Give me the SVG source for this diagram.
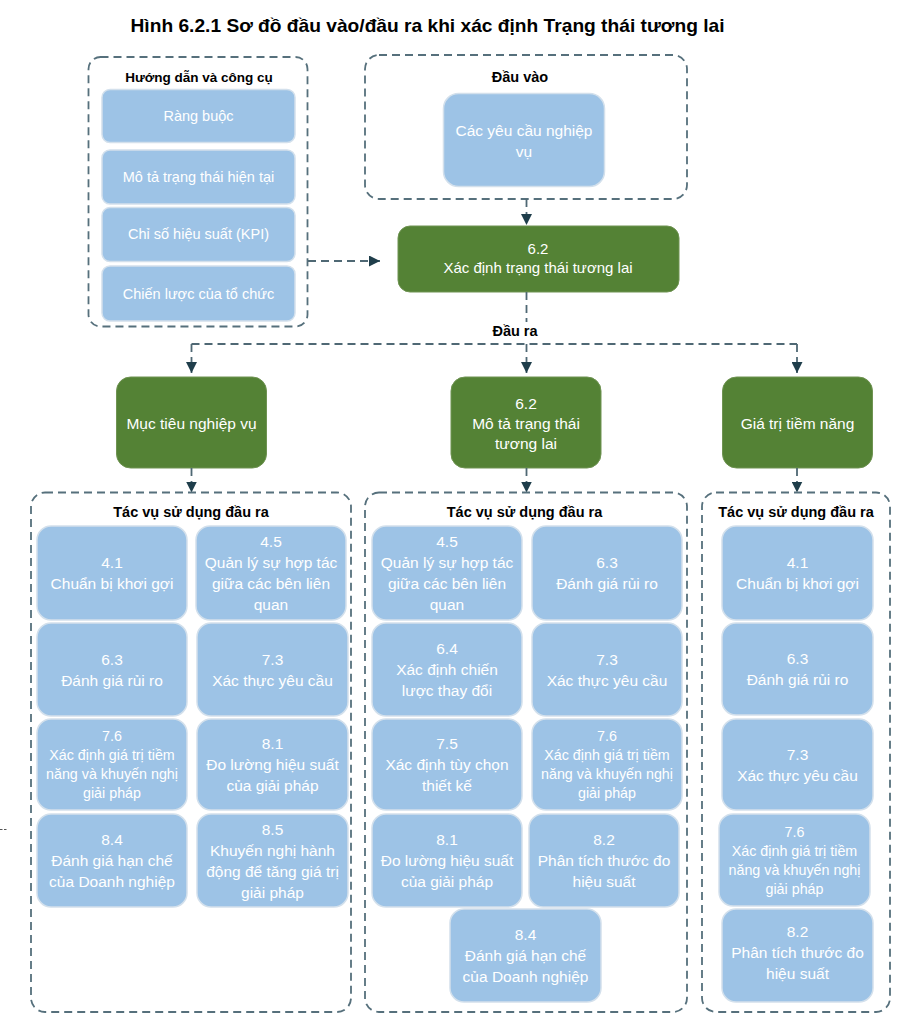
<svg xmlns="http://www.w3.org/2000/svg" width="899" height="1024" viewBox="0 0 899 1024">
<defs>
<marker id="ah" viewBox="0 0 11 11" refX="11" refY="5.5" markerWidth="11" markerHeight="11" markerUnits="userSpaceOnUse" orient="auto">
<path d="M0,0 L11,5.5 L0,11 z" fill="#1f3e4b"/>
</marker>
<style>
text{font-family:"Liberation Sans",Arial,sans-serif;text-anchor:middle}
.title{font-size:18.5px;font-weight:bold;fill:#000}
.hdr{font-size:14.5px;font-weight:bold;fill:#000}
.panel{fill:none;stroke:#56707c;stroke-width:1.8;stroke-dasharray:8,5}
.blue{fill:#9dc3e6;stroke:#d3e0ec;stroke-width:1.5}
.green{fill:#548235;stroke:#6f9352;stroke-width:1}
.bt{font-size:15.5px;fill:#fff}
.st{font-size:14.3px;fill:#fff}
.tl{font-size:14.5px;fill:#fff}
.gt{font-size:15.5px;fill:#fff}
.conn{fill:none;stroke:#4f6874;stroke-width:1.8;stroke-dasharray:8,5}
</style>
</defs>

<text class="title" x="427.5" y="32" textLength="594" lengthAdjust="spacingAndGlyphs">Hình 6.2.1 Sơ đồ đầu vào/đầu ra khi xác định Trạng thái tương lai</text>

<g id="guides">
<rect class="panel" x="88.5" y="57" width="219" height="269.5" rx="12"/>
<text class="hdr" x="199" y="81.5" style="font-size:13.5px">Hướng dẫn và công cụ</text>
<g id="g-rangbuoc"><rect class="blue" x="102" y="89.5" width="193" height="53" rx="8"/><text class="tl" x="198.5" y="121">Ràng buộc</text></g>
<g id="g-mota"><rect class="blue" x="102" y="150" width="193" height="54" rx="8"/><text class="tl" x="198.5" y="182">Mô tả trạng thái hiện tại</text></g>
<g id="g-kpi"><rect class="blue" x="102" y="207.5" width="193" height="54" rx="8"/><text class="tl" x="198.5" y="239">Chỉ số hiệu suất (KPI)</text></g>
<g id="g-chienluoc"><rect class="blue" x="102" y="266" width="193" height="55" rx="8"/><text class="tl" x="198.5" y="298.5">Chiến lược của tổ chức</text></g>
</g>

<g id="inputs">
<rect class="panel" x="365" y="55" width="322" height="144" rx="14"/>
<text class="hdr" x="520" y="82">Đầu vào</text>
<g id="in-yeucau"><rect class="blue" x="443.5" y="93.5" width="161" height="93" rx="15"/>
<text class="bt" x="524" y="135.5">Các yêu cầu nghiệp</text><text class="bt" x="524" y="157">vụ</text></g>
</g>

<g id="task-6-2">
<rect class="green" x="398" y="226" width="281" height="66" rx="12"/>
<text class="st" x="538" y="253.5" style="font-size:15px">6.2</text>
<text class="st" x="538" y="273" style="font-size:15px">Xác định trạng thái tương lai</text>
</g>

<text class="hdr" x="515" y="336">Đầu ra</text>

<g id="out-muctieu">
<rect class="green" x="116.5" y="377" width="150" height="91" rx="14"/>
<text class="gt" x="191.5" y="428.5">Mục tiêu nghiệp vụ</text>
</g>
<g id="out-mota">
<rect class="green" x="451" y="377" width="150" height="91" rx="14"/>
<text class="gt" x="526" y="408.5">6.2</text>
<text class="gt" x="526" y="428.5">Mô tả trạng thái</text>
<text class="gt" x="526" y="448.5">tương lai</text>
</g>
<g id="out-giatri">
<rect class="green" x="722.5" y="377" width="150" height="91" rx="14"/>
<text class="gt" x="797.5" y="428.5">Giá trị tiềm năng</text>
</g>

<g id="connectors">
<path class="conn" d="M526.5,199 V225" marker-end="url(#ah)"/>
<path class="conn" d="M308,261 H380" marker-end="url(#ah)"/>
<path class="conn" d="M526.5,292 V322"/>
<path class="conn" d="M191.5,344 H797"/>
<path class="conn" d="M191.5,344 V373" marker-end="url(#ah)"/>
<path class="conn" d="M526.5,344 V373" marker-end="url(#ah)"/>
<path class="conn" d="M797,344 V373" marker-end="url(#ah)"/>
<path class="conn" d="M191.5,468 V492.5" marker-end="url(#ah)"/>
<path class="conn" d="M526.5,468 V492.5" marker-end="url(#ah)"/>
<path class="conn" d="M797,468 V492.5" marker-end="url(#ah)"/>
<path d="M0,829.5 H7" fill="none" stroke="#555" stroke-width="1" stroke-dasharray="2.5,1.5"/>
</g>

<g id="uses-left">
<rect class="panel" x="31" y="492.5" width="320" height="519.5" rx="14"/>
<text class="hdr" x="191" y="517">Tác vụ sử dụng đầu ra</text>
<g id="l41"><rect class="blue" x="37" y="526" width="150" height="94" rx="14"/><text class="bt" x="112" y="568">4.1</text><text class="bt" x="112" y="589">Chuẩn bị khơi gợi</text></g>
<g id="l45"><rect class="blue" x="196" y="526" width="150" height="94" rx="14"/><text class="bt" x="271" y="547">4.5</text><text class="bt" x="271" y="568">Quản lý sự hợp tác</text><text class="bt" x="271" y="589">giữa các bên liên</text><text class="bt" x="271" y="610">quan</text></g>
<g id="l63"><rect class="blue" x="37" y="623" width="150" height="93" rx="14"/><text class="bt" x="112" y="664.5">6.3</text><text class="bt" x="112" y="685.5">Đánh giá rủi ro</text></g>
<g id="l73"><rect class="blue" x="197" y="623" width="151" height="93" rx="14"/><text class="bt" x="272.5" y="664.5">7.3</text><text class="bt" x="272.5" y="685.5">Xác thực yêu cầu</text></g>
<g id="l76"><rect class="blue" x="37" y="719" width="150" height="91" rx="14"/><text class="st" x="112" y="741">7.6</text><text class="st" x="112" y="760">Xác định giá trị tiềm</text><text class="st" x="112" y="779">năng và khuyến nghị</text><text class="st" x="112" y="798">giải pháp</text></g>
<g id="l81"><rect class="blue" x="197" y="719" width="151" height="91" rx="14"/><text class="bt" x="272.5" y="749">8.1</text><text class="bt" x="272.5" y="770">Đo lường hiệu suất</text><text class="bt" x="272.5" y="791">của giải pháp</text></g>
<g id="l84"><rect class="blue" x="37" y="814" width="150" height="93" rx="14"/><text class="bt" x="112" y="845">8.4</text><text class="bt" x="112" y="866">Đánh giá hạn chế</text><text class="bt" x="112" y="887">của Doanh nghiệp</text></g>
<g id="l85"><rect class="blue" x="197" y="814" width="151" height="93" rx="14"/><text class="bt" x="272.5" y="834.5">8.5</text><text class="bt" x="272.5" y="855.5">Khuyến nghị hành</text><text class="bt" x="272.5" y="876.5">động để tăng giá trị</text><text class="bt" x="272.5" y="897.5">giải pháp</text></g>
</g>

<g id="uses-middle">
<rect class="panel" x="365" y="492.5" width="322" height="519.5" rx="14"/>
<text class="hdr" x="524.5" y="517">Tác vụ sử dụng đầu ra</text>
<g id="m45"><rect class="blue" x="372" y="526" width="150" height="94" rx="14"/><text class="bt" x="447" y="547">4.5</text><text class="bt" x="447" y="568">Quản lý sự hợp tác</text><text class="bt" x="447" y="589">giữa các bên liên</text><text class="bt" x="447" y="610">quan</text></g>
<g id="m63"><rect class="blue" x="532" y="526" width="150" height="94" rx="14"/><text class="bt" x="607" y="568">6.3</text><text class="bt" x="607" y="589">Đánh giá rủi ro</text></g>
<g id="m64"><rect class="blue" x="372" y="623" width="150" height="93" rx="14"/><text class="bt" x="447" y="654">6.4</text><text class="bt" x="447" y="675">Xác định chiến</text><text class="bt" x="447" y="696">lược thay đổi</text></g>
<g id="m73"><rect class="blue" x="532" y="623" width="150" height="93" rx="14"/><text class="bt" x="607" y="664.5">7.3</text><text class="bt" x="607" y="685.5">Xác thực yêu cầu</text></g>
<g id="m75"><rect class="blue" x="372" y="719" width="150" height="91" rx="14"/><text class="bt" x="447" y="749">7.5</text><text class="bt" x="447" y="770">Xác định tùy chọn</text><text class="bt" x="447" y="791">thiết kế</text></g>
<g id="m76"><rect class="blue" x="532" y="719" width="150" height="91" rx="14"/><text class="st" x="607" y="741">7.6</text><text class="st" x="607" y="760">Xác định giá trị tiềm</text><text class="st" x="607" y="779">năng và khuyến nghị</text><text class="st" x="607" y="798">giải pháp</text></g>
<g id="m81"><rect class="blue" x="372" y="814" width="150" height="93" rx="14"/><text class="bt" x="447" y="845">8.1</text><text class="bt" x="447" y="866">Đo lường hiệu suất</text><text class="bt" x="447" y="887">của giải pháp</text></g>
<g id="m82"><rect class="blue" x="529" y="814" width="150" height="93" rx="14"/><text class="bt" x="604" y="845">8.2</text><text class="bt" x="604" y="866">Phân tích thước đo</text><text class="bt" x="604" y="887">hiệu suất</text></g>
<g id="m84"><rect class="blue" x="450" y="909" width="151" height="93" rx="14"/><text class="bt" x="525.5" y="940">8.4</text><text class="bt" x="525.5" y="961">Đánh giá hạn chế</text><text class="bt" x="525.5" y="982">của Doanh nghiệp</text></g>
</g>

<g id="uses-right">
<rect class="panel" x="702" y="492.5" width="188" height="519.5" rx="14"/>
<text class="hdr" x="796" y="517">Tác vụ sử dụng đầu ra</text>
<g id="r41"><rect class="blue" x="722" y="526" width="151" height="94" rx="14"/><text class="bt" x="797.5" y="568">4.1</text><text class="bt" x="797.5" y="589">Chuẩn bị khơi gợi</text></g>
<g id="r63"><rect class="blue" x="722" y="623" width="151" height="92" rx="14"/><text class="bt" x="797.5" y="664">6.3</text><text class="bt" x="797.5" y="685">Đánh giá rủi ro</text></g>
<g id="r73"><rect class="blue" x="722" y="719" width="151" height="91" rx="14"/><text class="bt" x="797.5" y="759.5">7.3</text><text class="bt" x="797.5" y="780.5">Xác thực yêu cầu</text></g>
<g id="r76"><rect class="blue" x="719" y="814" width="151" height="92" rx="14"/><text class="st" x="794.5" y="836.5">7.6</text><text class="st" x="794.5" y="855.5">Xác định giá trị tiềm</text><text class="st" x="794.5" y="874.5">năng và khuyến nghị</text><text class="st" x="794.5" y="893.5">giải pháp</text></g>
<g id="r82"><rect class="blue" x="722" y="909" width="151" height="93" rx="14"/><text class="bt" x="797.5" y="937">8.2</text><text class="bt" x="797.5" y="958">Phân tích thước đo</text><text class="bt" x="797.5" y="979">hiệu suất</text></g>
</g>
</svg>
